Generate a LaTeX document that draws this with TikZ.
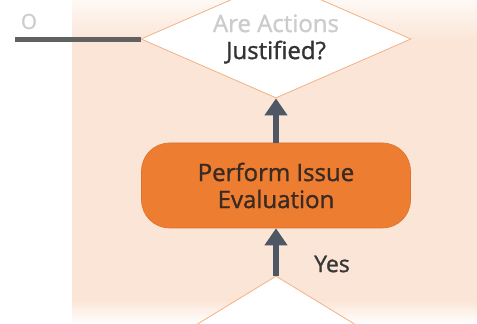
\documentclass[tikz,border=0pt]{standalone}
\usepackage{fontspec}
\setmainfont{Open Sans}
\newfontfamily\medio{Open Sans}[FakeBold=1.2]
\usetikzlibrary{shapes.geometric, arrows.meta, positioning}
\definecolor{pesego}{HTML}{FBE5D6}
\definecolor{laranja}{HTML}{ED7D31}
\definecolor{borda}{HTML}{F4B183}
\definecolor{ardosia}{HTML}{4D5864}
\definecolor{tinta}{HTML}{3A2A22}
\tikzset{
  dec/.style = {diamond, draw=borda, fill=white, line width=0.8pt,
    inner sep=0pt, aspect=2.3, align=center, text=black!80,
    font=\medio\fontsize{24}{27}\selectfont},
  proc/.style = {rectangle, rounded corners=28pt, fill=laranja,
    draw=laranja!92!black, line width=0.6pt, minimum width=269pt,
    minimum height=85pt, align=center, text=tinta,
    font=\medio\fontsize{24}{27}\selectfont},
  rot/.style = {text=black!78, font=\medio\fontsize{23}{26}\selectfont},
  avanco/.style = {-{Triangle[width=22pt, length=17pt]}, line width=6.5pt,
    draw=ardosia},
  lig/.style = {line width=5pt, draw=black!62}
}
\begin{document}
\begin{tikzpicture}[x=1pt, y=1pt]
  \useasboundingbox (0,0) rectangle (477,324);
  \clip (0,0) rectangle (477,324);
  % painel de fundo
  \fill[pesego] (72,24) rectangle (477,282);
  \shade[top color=pesego!25, bottom color=pesego] (72,282) rectangle (477,324);
  \shade[top color=pesego, bottom color=white] (72,0) rectangle (477,24);
  % formas
  \node [dec, minimum width=270pt, minimum height=118pt] (aval) at (276,285)
    {{\color{black!20}Are Actions}\\Justified?};
  \node [proc] (issue) at (276,138.5) {Perform Issue\\Evaluation};
  \node [dec, minimum width=272pt, minimum height=166pt] (cond) at (276,-35) {};
  % ligacoes
  \coordinate (fim) at (15,284);
  \draw [lig] (fim) -- (fim -| aval.west);
  \node [rot, text=black!20, font=\fontsize{28}{30}\selectfont] (nao) at (29,302) {o};
  \draw [avanco] (issue) -- (aval);
  \draw [avanco] (cond) -- (issue);
  \node [rot] (sim) at (332,60) {Yes};
\end{tikzpicture}
\end{document}
